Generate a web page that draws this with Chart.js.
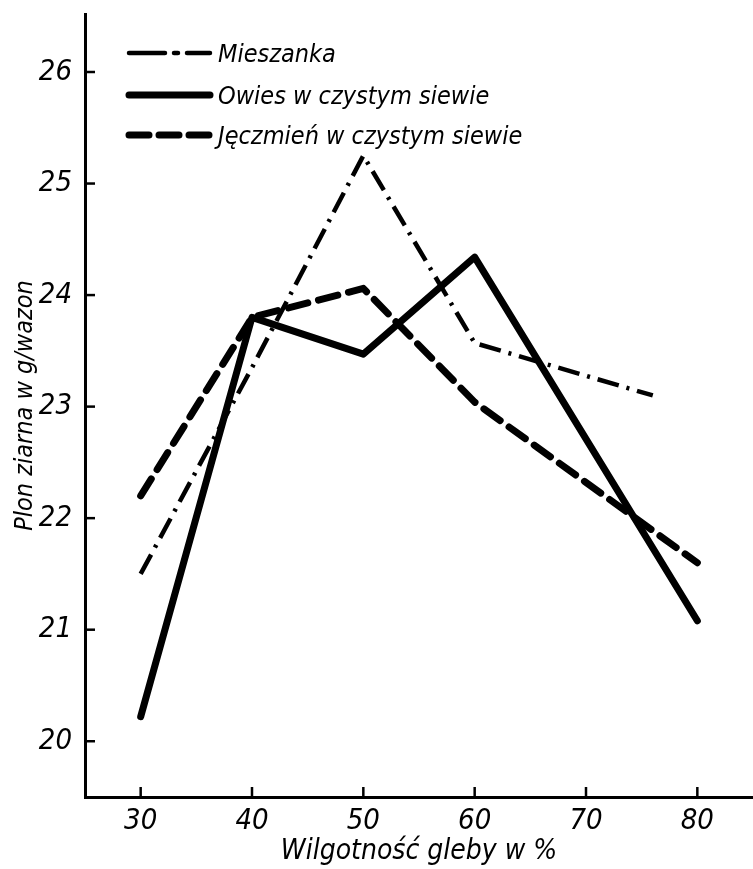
<!DOCTYPE html>
<html>
<head>
<meta charset="utf-8">
<script src="https://cdn.jsdelivr.net/npm/chart.js@4"></script>
<style>
  body { margin: 0; background: #fff; }
  canvas { display: block; }
</style>
</head>
<body>
<canvas id="plon_chart" width="753" height="869"></canvas>
<script>
// values
var wilgotnosc = [30, 40, 50, 60, 80];
var mieszankaX = [30, 40, 50, 60, 76];
var mieszanka = [21.5, 23.35, 25.25, 23.57, 23.1];
var owies = [20.22, 23.8, 23.47, 24.34, 21.08];
var jeczmien = [22.2, 23.8, 24.06, 23.04, 21.6];
var xTicks = [30, 40, 50, 60, 70, 80];
var yTicks = [20, 21, 22, 23, 24, 25, 26];

var FONT = "'DejaVu Sans Condensed', 'Liberation Sans Narrow', sans-serif";

function pts(xs, ys) {
    return xs.map(function(x, i) { return {x: x, y: ys[i]}; });
}

var datasets = [
    {
        label: "Mieszanka",
        data: pts(mieszankaX, mieszanka),
        borderColor: '#000',
        borderWidth: 4.5,
        borderDash: [22, 8, 3, 8],
        borderCapStyle: 'butt'
    },
    {
        label: "Owies w czystym siewie",
        data: pts(wilgotnosc, owies),
        borderColor: '#000',
        borderWidth: 7,
        borderCapStyle: 'round'
    },
    {
        label: "Jęczmień w czystym siewie",
        data: pts(wilgotnosc, jeczmien),
        borderColor: '#000',
        borderWidth: 7,
        borderDash: [20, 11],
        borderCapStyle: 'round'
    }
];

// inward tick marks + hand legend
var extras = {
    id: 'extras',
    afterDraw: function(chart) {
        var ctx = chart.ctx;
        var xs = chart.scales.x, ys = chart.scales.y;
        var area = chart.chartArea;
        ctx.save();
        ctx.strokeStyle = '#000';
        ctx.lineWidth = 2.5;
        xTicks.forEach(function(v) {
            var px = xs.getPixelForValue(v);
            ctx.beginPath();
            ctx.moveTo(px, area.bottom);
            ctx.lineTo(px, area.bottom - 10);
            ctx.stroke();
        });
        yTicks.forEach(function(v) {
            var py = ys.getPixelForValue(v);
            ctx.beginPath();
            ctx.moveTo(area.left, py);
            ctx.lineTo(area.left + 10, py);
            ctx.stroke();
        });

        var rows = [53, 95, 135];
        chart.data.datasets.forEach(function(ds, i) {
            var y = rows[i];
            ctx.beginPath();
            ctx.lineWidth = ds.borderWidth;
            ctx.setLineDash(ds.borderDash ? (i === 0 ? [36, 9, 4, 9] : [20, 10]) : []);
            ctx.lineCap = 'round';
            ctx.moveTo(129, y);
            ctx.lineTo(210, y);
            ctx.stroke();
            ctx.setLineDash([]);
            ctx.fillStyle = '#000';
            ctx.font = "italic 25px " + FONT;
            ctx.textBaseline = 'middle';
            ctx.fillText(ds.label, 218, y + 2);
        });
        ctx.restore();
    }
};

var ctx = document.getElementById("plon_chart").getContext("2d");
new Chart(ctx, {
    type: 'line',
    data: {datasets: datasets},
    options: {
        responsive: false,
        animation: false,
        layout: {padding: {top: 14, right: 0, left: 0, bottom: 0}},
        elements: {point: {radius: 0}, line: {tension: 0, borderJoinStyle: 'round'}},
        plugins: {legend: {display: false}, tooltip: {enabled: false}},
        scales: {
            x: {
                type: 'linear',
                min: 25,
                max: 85,
                grid: {display: false, drawTicks: false},
                border: {display: true, color: '#000', width: 3},
                afterBuildTicks: function(scale) {
                    scale.ticks = xTicks.map(function(v) { return {value: v}; });
                },
                afterFit: function(scale) {
                    scale.height = 72;
                    scale.paddingLeft = 0;
                    scale.paddingRight = 0;
                },
                ticks: {
                    color: '#000',
                    padding: 7,
                    font: {family: FONT, size: 29, style: 'italic'}
                },
                title: {
                    display: true,
                    text: 'Wilgotność gleby w %',
                    color: '#000',
                    padding: {top: 0, bottom: 0},
                    font: {family: FONT, size: 28, style: 'italic'}
                }
            },
            y: {
                min: 19.5,
                max: 26.52,
                grid: {display: false, drawTicks: false},
                border: {display: true, color: '#000', width: 3},
                afterBuildTicks: function(scale) {
                    scale.ticks = yTicks.map(function(v) { return {value: v}; });
                },
                afterFit: function(scale) {
                    scale.width = 85;
                    scale.paddingTop = 0;
                    scale.paddingBottom = 0;
                },
                ticks: {
                    color: '#000',
                    padding: 13,
                    font: {family: FONT, size: 29, style: 'italic'}
                },
                title: {
                    display: true,
                    text: 'Plon ziarna w g/wazon',
                    color: '#000',
                    padding: {top: 10, bottom: 0},
                    font: {family: FONT, size: 25, style: 'italic'}
                }
            }
        }
    },
    plugins: [extras]
});
</script>
</body>
</html>
